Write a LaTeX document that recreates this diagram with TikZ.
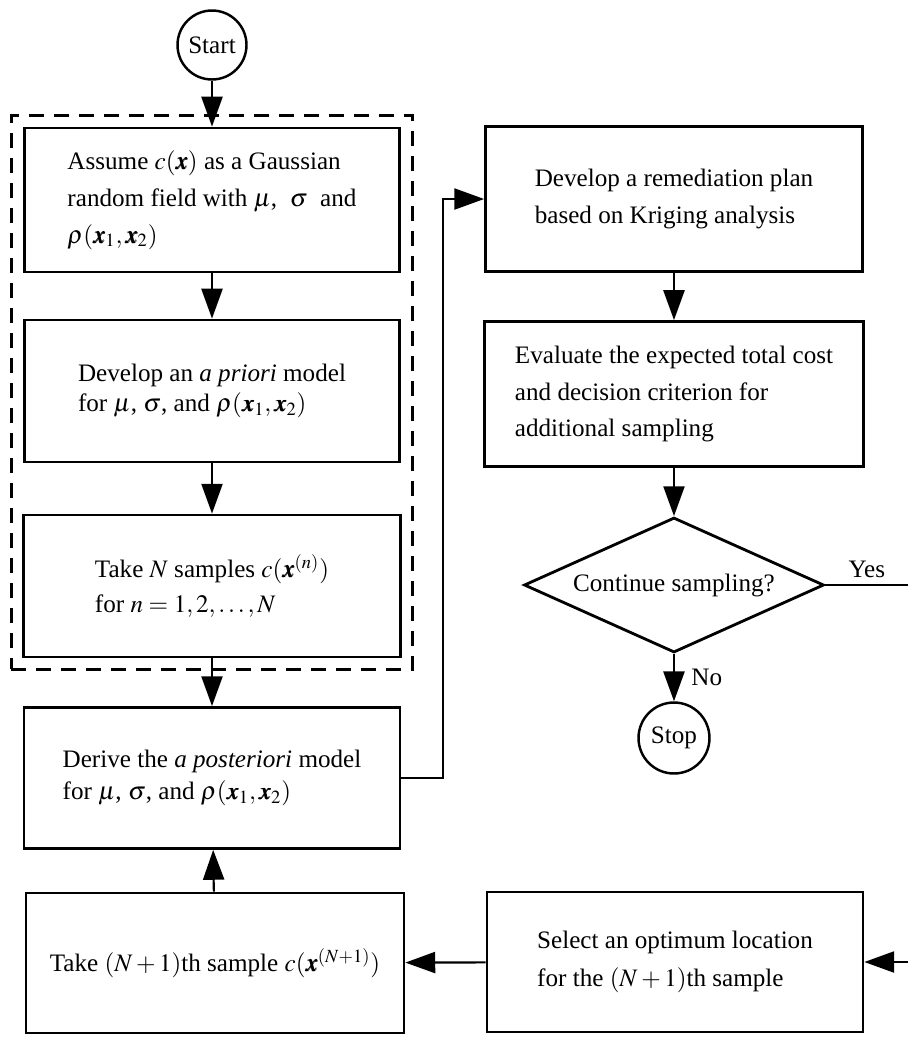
\documentclass[tikz,border=0pt]{standalone}
\usepackage{mathptmx}
\usepackage{bm}
\usepackage[no-math]{fontspec}
\setmainfont{Liberation Serif}
\usetikzlibrary{arrows.meta, fit, shapes.geometric}
\tikzstyle{process-box}=[draw, line width=1.6pt, rectangle, align=left, inner sep=0pt]
\tikzstyle{terminal}=[draw, line width=1.4pt, circle, inner sep=0pt, minimum size=1.38cm]
\tikzstyle{decision}=[draw, line width=1.6pt, diamond, aspect=2.2, inner sep=1pt, minimum width=6cm, minimum height=2.7cm]
\tikzstyle{flow}=[line width=1.2pt, -{Triangle[length=17pt, width=12pt]}]
\tikzstyle{group-box}=[draw, line width=1.6pt, dash pattern=on 0.3cm off 0.2cm, inner sep=0.22cm]

\begin{document}
\begin{tikzpicture}[x=0.02cm, y=-0.02cm, font=\fontsize{14.3}{21}\selectfont]
\useasboundingbox (0,0) rectangle (908,1039);

% left column
\node[terminal] (start) at (212,45) {Start};
\node[process-box, minimum width=7.5cm, minimum height=2.88cm] (assume) at (212,200) {Assume $c(\bm{x})$ as a Gaussian\\random field with $\mu$,~ $\sigma$~ and\\$\rho(\bm{x}_1,\bm{x}_2)$};
\node[process-box, minimum width=7.5cm, minimum height=2.84cm, font=\fontsize{14.3}{17.5}\selectfont] (prior) at (212,391) {Develop an \textit{a priori} model\\for $\mu$, $\sigma$, and $\rho(\bm{x}_1,\bm{x}_2)$};
\node[process-box, minimum width=7.54cm, minimum height=2.84cm, font=\fontsize{14.3}{20}\selectfont] (samples) at (212,586) {Take $N$ samples $c(\bm{x}^{(n)})$\\for $n=1,2,\ldots,N$};
\node[group-box, fit=(assume)(samples)] (model) {};
\node[process-box, minimum width=7.52cm, minimum height=2.82cm, font=\fontsize{14.3}{18.5}\selectfont] (posterior) at (212,778) {Derive the \textit{a posteriori} model\\for $\mu$, $\sigma$, and $\rho(\bm{x}_1,\bm{x}_2)$};
\node[process-box, minimum width=7.56cm, minimum height=2.8cm] (take) at (215,963) {Take $(N+1)$th sample $c(\bm{x}^{(N+1)})$};

% right column
\node[process-box, minimum width=7.54cm, minimum height=2.9cm] (remed) at (674,199) {Develop a remediation plan\\based on Kriging analysis};
\node[process-box, minimum width=7.58cm, minimum height=2.9cm] (evaluate) at (674,394) {Evaluate the expected total cost\\and decision criterion for\\additional sampling};
\node[decision] (decide) at (674,585) {Continue sampling?};
\node[terminal, minimum size=1.42cm] (stop) at (674,738) {Stop};
\node[process-box, minimum width=7.52cm, minimum height=2.8cm, font=\fontsize{14.3}{22}\selectfont] (select) at (675,962) {Select an optimum location\\for the $(N+1)$th sample};

\draw[flow] (start) -- (assume);
\draw[flow] (assume) -- (prior);
\draw[flow] (prior) -- (samples);
\draw[flow] (samples) -- (posterior);
\draw[flow] (posterior.east) -- ++(42,0) |- (remed.west);
\draw[flow] (remed) -- (evaluate);
\draw[flow] (evaluate) -- (decide);
\draw[flow] (decide) -- node[right=6pt] {No} (stop);
\draw[flow] (decide.east) -- node[above, pos=0.34] {Yes} ++(122,0) |- (select.east);
\draw[flow] (select) -- (take);
\draw[flow] (take) -- (posterior);
\end{tikzpicture}
\end{document}
